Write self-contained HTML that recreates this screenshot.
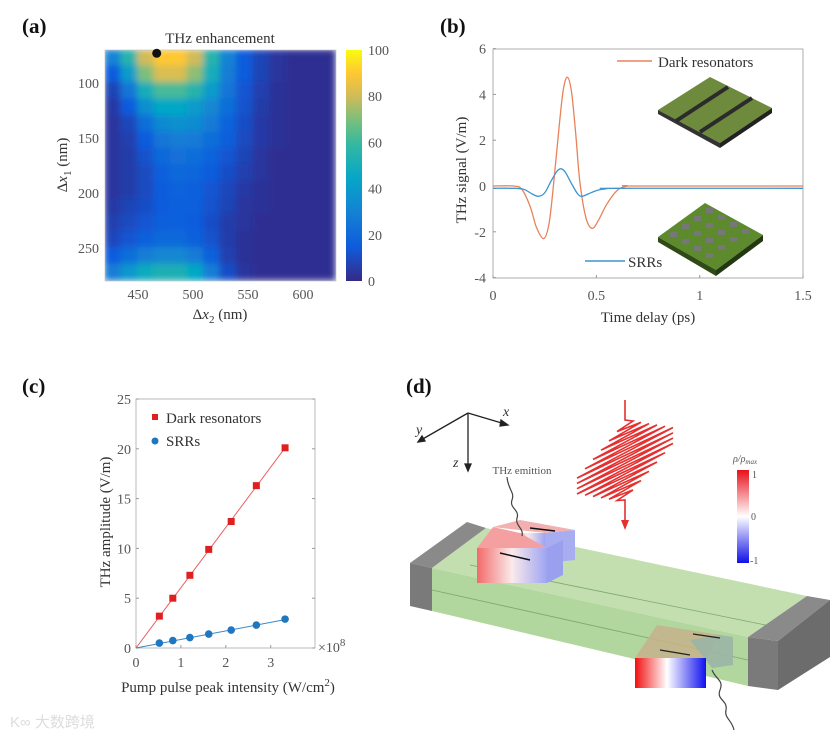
<!DOCTYPE html>
<html><head><meta charset="utf-8"><style>
html,body{margin:0;padding:0;background:#fff}
svg{display:block;font-family:"Liberation Serif",serif}
.tk{font-size:14px;fill:#555}
.lb{font-size:15px;fill:#333}
.pl{font-size:21px;font-weight:bold;fill:#111}
</style></head><body>
<svg id="fig" width="839" height="738" viewBox="0 0 839 738" xmlns="http://www.w3.org/2000/svg">
<defs>
<clipPath id="hmclip"><rect x="105" y="50" width="231" height="231"/></clipPath>
<filter id="hmblur" x="0" y="0" width="1" height="1"><feGaussianBlur stdDeviation="3.5" edgeMode="duplicate"/></filter>
<linearGradient id="cbgrad" x1="0" y1="1" x2="0" y2="0">
<stop offset="0" stop-color="#352a87"/><stop offset="0.15" stop-color="#0f5cdd"/><stop offset="0.3" stop-color="#1482d4"/><stop offset="0.45" stop-color="#06a7c6"/><stop offset="0.6" stop-color="#38b99e"/><stop offset="0.7" stop-color="#7cbf7b"/><stop offset="0.8" stop-color="#d1bb59"/><stop offset="0.9" stop-color="#fec832"/><stop offset="1" stop-color="#f9fb0e"/>
</linearGradient>
<linearGradient id="rhograd" x1="0" y1="0" x2="0" y2="1"><stop offset="0" stop-color="#e8101a"/><stop offset="0.5" stop-color="#ffffff"/><stop offset="1" stop-color="#1010e8"/></linearGradient>
<linearGradient id="resA" x1="0" y1="0" x2="1" y2="0"><stop offset="0" stop-color="#f26a6a"/><stop offset="0.5" stop-color="#fbeaea"/><stop offset="1" stop-color="#9ea4f2"/></linearGradient>
<linearGradient id="resB" x1="0" y1="0" x2="1" y2="0"><stop offset="0" stop-color="#f21010"/><stop offset="0.45" stop-color="#ffffff"/><stop offset="1" stop-color="#1010f0"/></linearGradient>
</defs>

<!-- Panel a -->
<g id="panel-a">
<text class="pl" x="22" y="33">(a)</text>
<text class="lb" x="220" y="43" text-anchor="middle">THz enhancement</text>
<g clip-path="url(#hmclip)"><g id="hmcells" filter="url(#hmblur)"></g></g>
<rect x="105" y="50" width="231" height="231" fill="none" stroke="#bbb" stroke-width="0.6"/>
<circle id="hmdot" r="4.5" fill="#111"/>
<g id="hmticks"></g>
<text class="lb" transform="translate(67,165) rotate(-90)" text-anchor="middle">Δ<tspan font-style="italic">x</tspan><tspan font-size="11" dy="4">1</tspan><tspan dy="-4"> (nm)</tspan></text>
<text class="lb" x="220" y="319" text-anchor="middle">Δ<tspan font-style="italic">x</tspan><tspan font-size="11" dy="4">2</tspan><tspan dy="-4"> (nm)</tspan></text>
<rect x="346" y="50" width="16" height="231" fill="url(#cbgrad)"/>
<g id="cbticks"></g>
</g>

<!-- Panel b -->
<g id="panel-b">
<text class="pl" x="440" y="33">(b)</text>
<rect x="493" y="49" width="310" height="229" fill="none" stroke="#999" stroke-width="0.8"/>
<g id="bticks"></g>
<g id="bcurves"></g>
<line x1="617" y1="61" x2="652" y2="61" stroke="#e8825a" stroke-width="1.5"/>
<text class="lb" x="658" y="67">Dark resonators</text>
<line x1="585" y1="261" x2="625" y2="261" stroke="#3a95d0" stroke-width="1.5"/>
<text class="lb" x="628" y="267">SRRs</text>
<g>
<polygon points="658,110 710,77 772,108 720,143" fill="#6e8a3c"/>
<polygon points="658,110 720,143 720,148 658,114" fill="#333"/>
<polygon points="720,143 772,108 772,113 720,148" fill="#222"/>
<line x1="676" y1="121" x2="728" y2="87" stroke="#2b2b2b" stroke-width="4"/>
<line x1="700" y1="132" x2="752" y2="98" stroke="#2b2b2b" stroke-width="4"/>
</g>
<g>
<polygon points="658,237 705,203 763,235 716,270" fill="#5e8a2e"/>
<polygon points="658,237 716,270 716,276 658,242" fill="#2f4a14"/>
<polygon points="716,270 763,235 763,241 716,276" fill="#223810"/>
<g fill="#777" id="srrdots"></g>
</g>
<text class="lb" x="648" y="322" text-anchor="middle">Time delay (ps)</text>
<text class="lb" transform="translate(466,170) rotate(-90)" text-anchor="middle">THz signal (V/m)</text>
</g>

<!-- Panel c -->
<g id="panel-c">
<text class="pl" x="22" y="393">(c)</text>
<rect x="136" y="399" width="179" height="249" fill="none" stroke="#aaa" stroke-width="0.8"/>
<g id="cticks"></g>
<g id="cmarks"></g>
<rect x="152" y="414" width="6" height="6" fill="#e02020"/>
<text class="lb" x="166" y="423">Dark resonators</text>
<circle cx="155" cy="441" r="3.5" fill="#1f77c0"/>
<text class="lb" x="166" y="446">SRRs</text>
<text class="tk" x="318" y="652">×10<tspan font-size="11" dy="-6">8</tspan></text>
<text class="lb" x="228" y="692" text-anchor="middle">Pump pulse peak intensity (W/cm<tspan font-size="11" dy="-6">2</tspan><tspan dy="6">)</tspan></text>
<text class="lb" transform="translate(110,522) rotate(-90)" text-anchor="middle">THz amplitude (V/m)</text>
</g>

<!-- Panel d -->
<g id="panel-d">
<text class="pl" x="406" y="393">(d)</text>
<g stroke="#222" stroke-width="1.3" fill="#222">
<line x1="468" y1="413" x2="505" y2="424"/><polygon points="508,425 501,420 500,426"/>
<line x1="468" y1="413" x2="421" y2="440"/><polygon points="418,442 422,436 425,441"/>
<line x1="468" y1="413" x2="468" y2="466"/><polygon points="468,471 465,464 471,464"/>
</g>
<text x="503" y="416" font-size="14" font-style="italic" fill="#333">x</text>
<text x="416" y="434" font-size="14" font-style="italic" fill="#333">y</text>
<text x="453" y="467" font-size="14" font-style="italic" fill="#333">z</text>
<text x="522" y="474" font-size="11" fill="#555" text-anchor="middle">THz emittion</text>
<g>
<polygon points="410,563 467,522 486,528 432,568" fill="#8a8a8a"/>
<polygon points="410,563 432,568 432,611 410,606" fill="#7a7a7a"/>
<polygon points="432,568 486,528 807,596 748,637" fill="#bddca6" opacity="0.9"/>
<polygon points="432,568 748,637 748,686 432,611" fill="#a9d294" opacity="0.9"/>
<line x1="432" y1="590" x2="748" y2="660" stroke="#7aa86a" stroke-width="0.8"/>
<line x1="470" y1="565" x2="790" y2="630" stroke="#7aa86a" stroke-width="0.8"/>
<polygon points="748,637 807,596 830,600 778,641" fill="#8a8a8a"/>
<polygon points="748,637 778,641 778,690 748,686" fill="#7a7a7a"/>
<polygon points="778,641 830,600 830,657 778,690" fill="#6c6c6c"/>
</g>
<g>
<polygon points="493,527 520,520 575,530 545,533" fill="#f3b0b0"/>
<polygon points="545,533 575,530 575,560 545,563" fill="#a8acf0"/>
<polygon points="510,533 545,533 545,563 510,563" fill="url(#resA)"/>
<polygon points="477,548 493,527 520,533 547,548" fill="#f4a0a0"/>
<polygon points="477,548 547,548 547,583 477,583" fill="url(#resA)"/>
<polygon points="547,548 563,540 563,575 547,583" fill="#9aa0ee"/>
<g stroke="#111" stroke-width="1.5"><line x1="530" y1="560" x2="500" y2="553"/><line x1="555" y1="531" x2="530" y2="528"/></g>
</g>
<g>
<polygon points="635,658 657,625 720,635 706,658" fill="#c7b18a" opacity="0.85"/>
<polygon points="690,640 720,635 733,637 733,665 712,668" fill="#9bb5a5" opacity="0.9"/>
<polygon points="635,658 706,658 706,688 635,688" fill="url(#resB)"/>
<g stroke="#222" stroke-width="1.3"><line x1="690" y1="655" x2="660" y2="650"/><line x1="720" y1="638" x2="693" y2="634"/></g>
</g>
<path d="M507,477 C508,490 515,492 512,500 C509,508 520,510 517,518 C515,526 524,528 522,536" fill="none" stroke="#444" stroke-width="1.2"/>
<path d="M712,670 C716,680 724,680 720,690 C716,700 728,700 726,710 C724,718 732,720 734,730" fill="none" stroke="#444" stroke-width="1.2"/>
<g id="pulse" stroke="#e53030" stroke-width="1.6" fill="none"></g>
<polygon points="625,530 621,520 629,520" fill="#e53030"/>
<text x="733" y="462" font-size="10" font-style="italic" fill="#555">ρ/ρ<tspan font-size="7" dy="2">max</tspan></text>
<rect x="737" y="470" width="12" height="93" fill="url(#rhograd)"/>
<text x="752" y="478" font-size="10" fill="#555">1</text>
<text x="751" y="520" font-size="10" fill="#555">0</text>
<text x="750" y="564" font-size="10" fill="#555">-1</text>
</g>
<text x="10" y="727" font-size="15" fill="#ddd" font-family="'Liberation Sans','Noto Sans CJK SC',sans-serif">K∞ 大数跨境</text>
</svg>
<script>
const hmCols=[427,442,457,472,487,502,517,532,547,562,577,592,607,622];
const hmRows=[77,92,107,122,137,152,167,182,197,212,227,242,257,272];
const hmVals=[
[30,55,80,90,90,80,55,30,15,8,4,2,2,2],
[15,40,70,82,82,72,50,28,15,8,4,2,2,2],
[8,25,50,62,62,55,40,25,13,7,3,2,2,2],
[5,15,35,45,45,40,32,22,12,6,3,2,2,2],
[4,9,22,33,36,34,27,18,11,5,3,2,2,2],
[4,7,15,25,28,27,22,16,10,5,3,2,2,2],
[4,6,12,20,23,22,18,13,8,4,2,2,2,2],
[4,6,10,17,20,19,15,11,7,4,2,2,2,2],
[4,6,10,15,18,17,13,9,5,3,2,2,2,2],
[5,8,11,15,17,16,12,8,4,3,2,2,2,2],
[7,10,13,16,17,15,11,6,4,2,2,2,2,2],
[9,13,17,20,20,17,12,6,3,2,2,2,2,2],
[15,22,28,32,32,27,17,7,3,2,2,2,2,2],
[28,38,48,52,52,45,28,11,4,2,2,2,2,2]];
const hmXTicks=[450,500,550,600];
const hmYTicks=[100,150,200,250];
const cbTicks=[0,20,40,60,80,100];
const optPoint=[467,73];
const tDark=[0,0.1,0.14,0.18,0.21,0.245,0.27,0.29,0.32,0.34,0.36,0.38,0.4,0.42,0.45,0.48,0.51,0.55,0.6,0.65,0.7,1.5];
const vDark=[0,0,-0.15,-0.9,-1.8,-2.3,-1.7,-0.2,2.6,4.2,4.75,4.1,2.3,0.2,-1.4,-1.85,-1.5,-0.8,-0.2,0,0,0];
const tSRR=[0,0.1,0.15,0.19,0.22,0.25,0.28,0.31,0.33,0.35,0.38,0.41,0.43,0.46,0.5,0.55,0.6,1.5];
const vSRR=[-0.1,-0.1,-0.15,-0.35,-0.45,-0.3,0.2,0.65,0.75,0.6,0.1,-0.35,-0.45,-0.35,-0.2,-0.12,-0.1,-0.1];
const bXTicks=[0,0.5,1,1.5];
const bXLabels=["0","0.5","1","1.5"];
const bYTicks=[-4,-2,0,2,4,6];
const cI=[0.52,0.82,1.2,1.62,2.12,2.68,3.32];
const cDark=[3.2,5.0,7.3,9.9,12.7,16.3,20.1];
const cSRR=[0.5,0.75,1.05,1.4,1.8,2.3,2.9];
const cFitDark=[0,20.1];
const cFitSRR=[0,2.85];
const cFitX=[0,3.32];
const cXTicks=[0,1,2,3];
const cYTicks=[0,5,10,15,20,25];

const NS="http://www.w3.org/2000/svg";
function mk(tag,attrs,parent){const e=document.createElementNS(NS,tag);for(const k in attrs)e.setAttribute(k,attrs[k]);parent.appendChild(e);return e;}
const $=id=>document.getElementById(id);
const pStops=[[0,[50,40,135]],[0.15,[15,92,221]],[0.3,[20,130,212]],[0.45,[6,167,198]],[0.6,[56,185,158]],[0.7,[124,191,123]],[0.8,[209,187,89]],[0.9,[254,200,50]],[1,[249,251,14]]];
function parula(v){v=Math.max(0,Math.min(1,v));for(let i=1;i<pStops.length;i++){if(v<=pStops[i][0]){const a=pStops[i-1],b=pStops[i],f=(v-a[0])/(b[0]-a[0]);return 'rgb('+a[1].map((c,j)=>Math.round(c+(b[1][j]-c)*f)).join(',')+')';}}return 'rgb(249,251,14)';}
const axX=nm=>105+(nm-420)*1.1, axY=nm=>50+(nm-70)*1.1;
const cells=$('hmcells');
hmRows.forEach((r,ri)=>hmCols.forEach((c,ci)=>{
  const e=mk('rect',{x:axX(c-7.5)-0.5,y:axY(r-7.5)-0.5,width:17.5,height:17.5,fill:parula(hmVals[ri][ci]/100)},cells);
  
  
}));
$('hmdot').setAttribute('cx',axX(optPoint[0]));$('hmdot').setAttribute('cy',axY(optPoint[1]));
const ht=$('hmticks');
hmXTicks.forEach(v=>{const t=mk('text',{x:axX(v),y:299,'text-anchor':'middle',class:'tk'},ht);t.textContent=v;
  });
hmYTicks.forEach(v=>{const t=mk('text',{x:99,y:axY(v)+5,'text-anchor':'end',class:'tk'},ht);t.textContent=v;
  });
const cbY=v=>281-v*2.31;
cbTicks.forEach(v=>{const t=mk('text',{x:368,y:cbY(v)+5,class:'tk'},$('cbticks'));t.textContent=v;
  });

const bx=t=>493+t*206.7, by=v=>186-v*22.9;
const bt=$('bticks');
bXTicks.forEach((v,i)=>{mk('line',{x1:bx(v),y1:278,x2:bx(v),y2:275,stroke:'#999'},bt);
  const t=mk('text',{x:bx(v),y:300,'text-anchor':'middle',class:'tk'},bt);t.textContent=bXLabels[i];
  });
bYTicks.forEach(v=>{mk('line',{x1:493,y1:by(v),x2:496,y2:by(v),stroke:'#999'},bt);
  const t=mk('text',{x:486,y:by(v)+5,'text-anchor':'end',class:'tk'},bt);t.textContent=v;
  });
function smooth(xs,ys){const p=xs.map((x,i)=>[x,ys[i]]);let d='M'+p[0][0]+','+p[0][1];
  for(let i=0;i<p.length-1;i++){const p0=p[Math.max(0,i-1)],p1=p[i],p2=p[i+1],p3=p[Math.min(p.length-1,i+2)];
    const c1=[p1[0]+(p2[0]-p0[0])/6,p1[1]+(p2[1]-p0[1])/6],c2=[p2[0]-(p3[0]-p1[0])/6,p2[1]-(p3[1]-p1[1])/6];
    d+=' C'+c1.join(',')+' '+c2.join(',')+' '+p2.join(',');}return d;}
const cv=$('bcurves');
let e1=mk('path',{d:smooth(tDark.map(bx),vDark.map(by)),fill:'none',stroke:'#e8825a','stroke-width':1.3},cv);

let e2=mk('path',{d:smooth(tSRR.map(bx),vSRR.map(by)),fill:'none',stroke:'#3a95d0','stroke-width':1.3},cv);

for(let i=0;i<4;i++)for(let j=0;j<4;j++){const x0=670+i*12+j*12,y0=236-i*8+j*7;
  mk('rect',{x:x0,y:y0-4,width:7,height:5},$('srrdots'));}

const cx=v=>136+v*44.9, cy=v=>648-v*9.96;
const ct=$('cticks');
cXTicks.forEach(v=>{mk('line',{x1:cx(v),y1:648,x2:cx(v),y2:645,stroke:'#999'},ct);
  const t=mk('text',{x:cx(v),y:667,'text-anchor':'middle',class:'tk'},ct);t.textContent=v;
  });
cYTicks.forEach(v=>{mk('line',{x1:136,y1:cy(v),x2:139,y2:cy(v),stroke:'#999'},ct);
  mk('line',{x1:315,y1:cy(v),x2:312,y2:cy(v),stroke:'#999'},ct);
  const t=mk('text',{x:131,y:cy(v)+5,'text-anchor':'end',class:'tk'},ct);t.textContent=v;
  });
const cm=$('cmarks');
let f1=mk('line',{x1:cx(cFitX[0]),y1:cy(cFitDark[0]),x2:cx(cFitX[1]),y2:cy(cFitDark[1]),stroke:'#e86060','stroke-width':1},cm);

let f2=mk('line',{x1:cx(cFitX[0]),y1:cy(cFitSRR[0]),x2:cx(cFitX[1]),y2:cy(cFitSRR[1]),stroke:'#3a88c8','stroke-width':1},cm);

cI.forEach((v,i)=>{
  const r=mk('rect',{x:cx(v)-3.5,y:cy(cDark[i])-3.5,width:7,height:7,fill:'#e02020'},cm);
  
  const c=mk('circle',{cx:cx(v),cy:cy(cSRR[i]),r:3.8,fill:'#1f77c0'},cm);
  
});

(function(){const g=$('pulse');let d='M625,400 L625,420';
  for(let k=0;k<14;k++){const cyk=425+k*5.3, amp=Math.min(k+1,14-k,6)*8;
    d+=` L${625+amp},${cyk-amp*0.5} L${625-amp},${cyk+amp*0.5+2.6}`;}
  d+=' L625,500 L625,522';mk('path',{d:d},g);})();
</script>
</body></html>
